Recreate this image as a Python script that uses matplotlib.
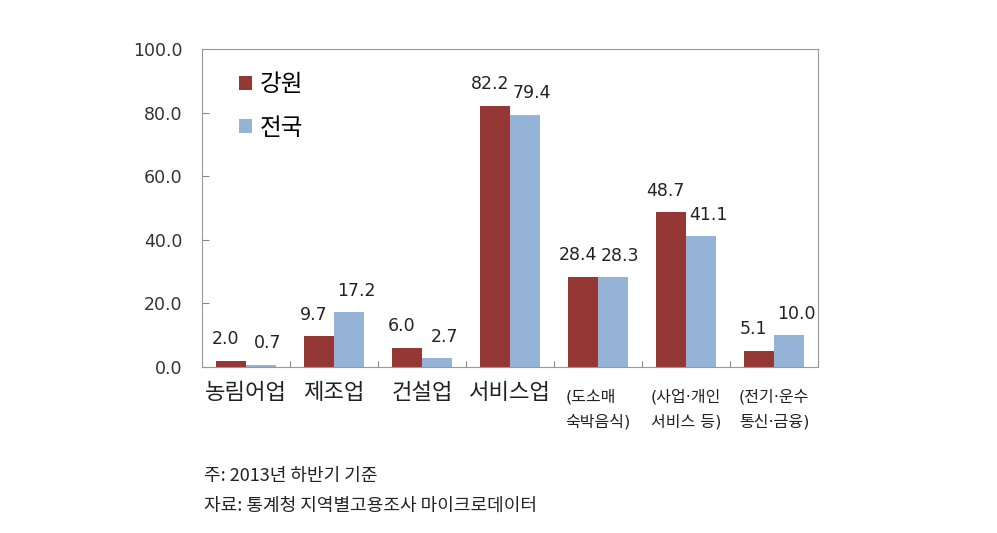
import numpy as np
import matplotlib
matplotlib.use('Agg')
import matplotlib.pyplot as plt

plt.rcParams['font.family'] = ['Noto Sans CJK KR', 'DejaVu Sans']

categories = ['농림어업', '제조업', '건설업', '서비스업',
              '(도소매\n숙박음식)', '(사업·개인\n서비스 등)', '(전기·운수\n통신·금융)']
gangwon = [2.0, 9.7, 6.0, 82.2, 28.4, 48.7, 5.1]
national = [0.7, 17.2, 2.7, 79.4, 28.3, 41.1, 10.0]
yticks = [0, 20, 40, 60, 80, 100]

c_gw = '#953735'
c_nat = '#95b3d7'
num_font = ['DejaVu Sans', 'Noto Sans CJK KR']

fig = plt.figure(figsize=(9.97, 5.33), dpi=100)
ax = fig.add_axes([0.2026, 0.3114, 0.6179, 0.5966])

x = np.arange(len(categories))
w = 0.34
ax.bar(x - w / 2, gangwon, w, color=c_gw, label='강원')
ax.bar(x + w / 2, national, w, color=c_nat, label='전국')

for i in range(len(x)):
    ax.annotate(f'{gangwon[i]:.1f}', (x[i] - w / 2 - 0.06, gangwon[i]),
                xytext=(0, 9), textcoords='offset points', ha='center',
                va='bottom', fontsize=12.5, family=num_font, color='#222222')
    ax.annotate(f'{national[i]:.1f}', (x[i] + w / 2 + 0.08, national[i]),
                xytext=(0, 9), textcoords='offset points', ha='center',
                va='bottom', fontsize=12.5, family=num_font, color='#222222')

ax.set_xlim(-0.5, len(categories) - 0.5)
ax.set_ylim(0, 100)
ax.set_yticks(yticks)
ax.set_yticklabels([f'{v:.1f}' for v in yticks], fontsize=12.5,
                   family=num_font, color='#333333')
ax.tick_params(axis='y', direction='in', length=5, color='#888888', pad=14)

ax.set_xticks(np.arange(len(categories) + 1) - 0.5)
ax.set_xticklabels([])
ax.tick_params(axis='x', direction='in', length=4, color='#888888')

for s in ax.spines.values():
    s.set_color('#999999')

for i, lab in enumerate(categories):
    if '\n' in lab:
        ax.text(x[i], -7, lab, ha='center', va='top', fontsize=11.5,
                family=num_font, multialignment='left', linespacing=1.75,
                color='#222222')
    else:
        ax.text(x[i], -4.5, lab, ha='center', va='top', fontsize=16,
                color='#222222')

ax.legend(loc='upper left', bbox_to_anchor=(0.025, 0.99), frameon=False,
          fontsize=17, handlelength=0.55, handleheight=0.55, handletextpad=0.35,
          labelspacing=0.85)

fig.text(0.205, 0.107, '주: 2013년 하반기 기준', fontsize=13,
         va='center', color='#222222')
fig.text(0.205, 0.051, '자료: 통계청 지역별고용조사 마이크로데이터', fontsize=13,
         va='center', color='#222222')

fig.savefig('out.png', dpi=100)
